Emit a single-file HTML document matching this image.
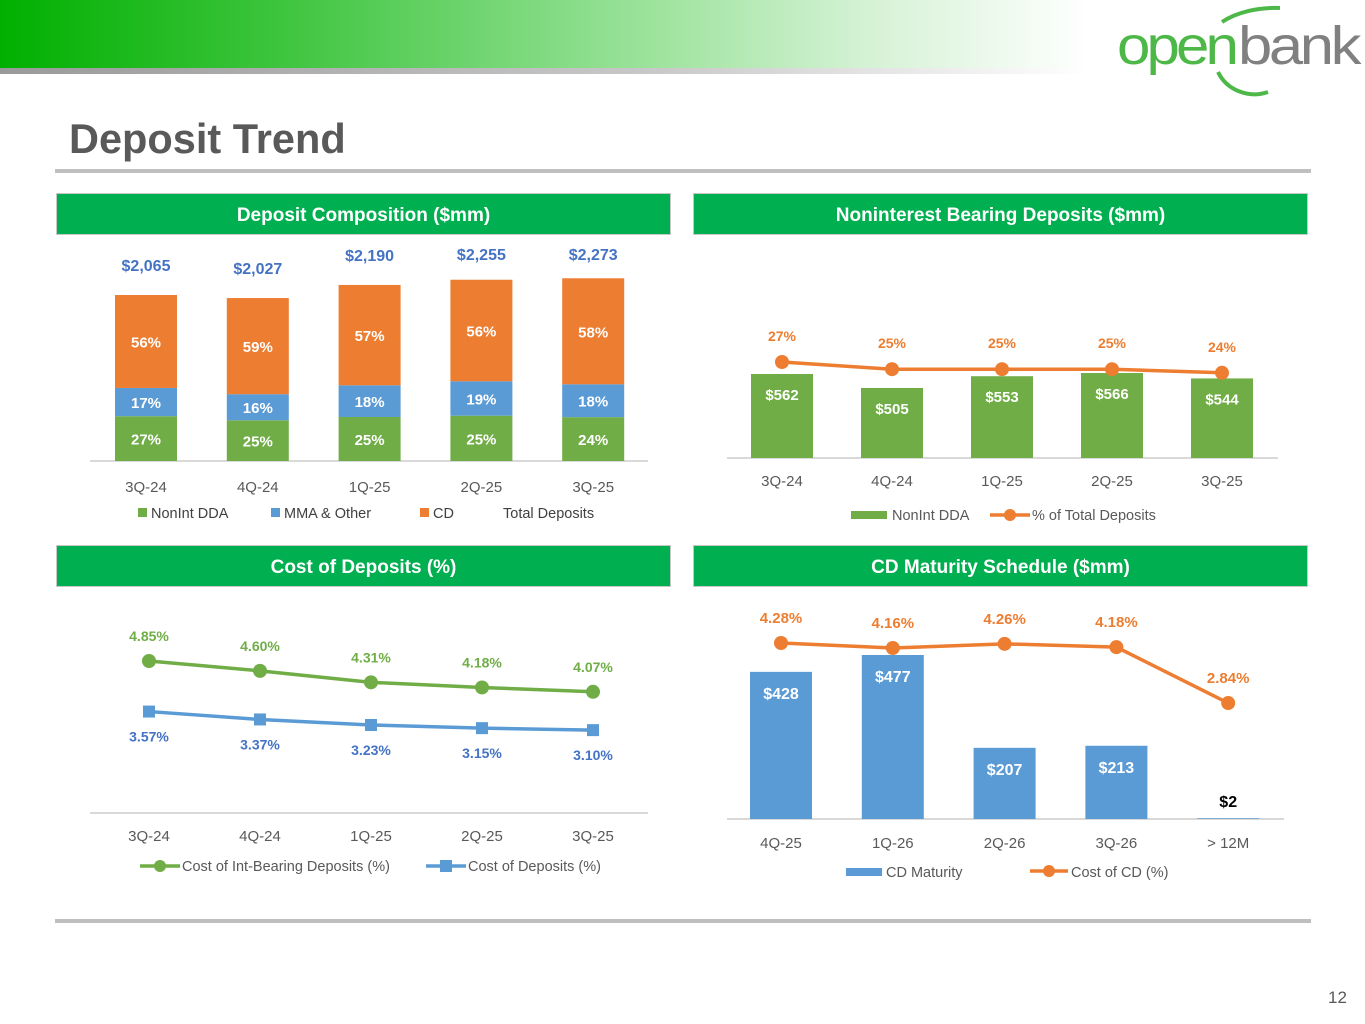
<!DOCTYPE html>
<html><head><meta charset="utf-8">
<style>
body{margin:0;width:1365px;height:1024px;background:#fff;font-family:"Liberation Sans",Arial,sans-serif;position:relative;overflow:hidden}
.hdr{position:absolute;height:40px;background:#00b050;color:#fff;font-weight:bold;font-size:19px;line-height:43px;text-align:center;box-shadow:0 0 0 1px #c8c8c8}
</style></head><body>
<div style="position:absolute;left:0;top:0;width:1090px;height:68px;background:linear-gradient(90deg,#00b000 0%,#3cc43c 25%,#8fdf8f 55%,#d6f2d6 80%,#fff 100%)"></div>
<div style="position:absolute;left:0;top:68px;width:1090px;height:6px;background:linear-gradient(90deg,#9a9a9a,#c8c8c8 60%,#fff)"></div>
<svg style="position:absolute;left:1110px;top:0" width="255" height="100">
<path d="M112 22 A70 40 0 0 1 170 8" stroke="#4db848" stroke-width="4" fill="none"/>
<path d="M108 72 A40 38 0 0 0 158 92" stroke="#4db848" stroke-width="4" fill="none"/>
<text x="7" y="64" font-family="Liberation Sans,Arial,sans-serif" font-size="54" fill="#4db848" letter-spacing="-3.5" textLength="118" lengthAdjust="spacingAndGlyphs">open</text>
<text x="128" y="64" font-family="Liberation Sans,Arial,sans-serif" font-size="54" fill="#808080" letter-spacing="-3" textLength="120" lengthAdjust="spacingAndGlyphs">bank</text>
</svg>
<div style="position:absolute;left:69px;top:115px;font-size:41.5px;font-weight:bold;color:#595959">Deposit Trend</div>
<div style="position:absolute;left:55px;top:169px;width:1256px;height:4px;background:#bfbfbf"></div>
<div style="position:absolute;left:55px;top:919px;width:1256px;height:4px;background:#bfbfbf"></div>
<div class="hdr" style="left:57px;top:194px;width:613px">Deposit Composition ($mm)</div>
<div class="hdr" style="left:694px;top:194px;width:613px">Noninterest Bearing Deposits ($mm)</div>
<div class="hdr" style="left:57px;top:546px;width:613px">Cost of Deposits (%)</div>
<div class="hdr" style="left:694px;top:546px;width:613px">CD Maturity Schedule ($mm)</div>
<div style="position:absolute;left:1328px;top:988px;font-size:17px;color:#595959">12</div>
<svg id="chart" style="position:absolute;left:0;top:0" width="1365" height="1024" font-family="Liberation Sans,Arial,sans-serif"></svg>
<script>
const quarters1 = ["3Q-24","4Q-24","1Q-25","2Q-25","3Q-25"];
const totalDeposits = [2065,2027,2190,2255,2273];
const pctNonInt = [27,25,25,25,24];
const pctMMA = [17,16,18,19,18];
const pctCD = [56,59,57,56,58];
const nonIntDDA = [562,505,553,566,544];
const pctOfTotal = [27,25,25,25,24];
const costIntBearing = [4.85,4.60,4.31,4.18,4.07];
const costDeposits = [3.57,3.37,3.23,3.15,3.10];
const maturityBuckets = ["4Q-25","1Q-26","2Q-26","3Q-26","> 12M"];
const cdMaturity = [428,477,207,213,2];
const costCD = [4.28,4.16,4.26,4.18,2.84];

const svg=document.getElementById('chart');
const NS='http://www.w3.org/2000/svg';
function el(tag,attrs,txt){const e=document.createElementNS(NS,tag);for(const k in attrs)e.setAttribute(k,attrs[k]);if(txt!==undefined)e.textContent=txt;svg.appendChild(e);return e;}
const G='#70ad47',B='#5b9bd5',O='#ed7d31',LB='#4472c4',T='#595959';
function xs(x0,step){return i=>x0+i*step;}
function axisLine(x1,x2,y){const e=el('line',{x1:x1,x2:x2,y1:y,y2:y,stroke:'#d9d9d9','stroke-width':2});}
function tickLabels(cats,xf,y){cats.forEach((c,i)=>{const t=el('text',{x:xf(i),y:y,'text-anchor':'middle','font-size':15,fill:T},c);});}
function lbl(x,y,txt,col,size){const t=el('text',{x:x,y:y,'text-anchor':'middle','font-size':size||15,'font-weight':'bold',fill:col},txt);return t;}

// Chart 1
const x1=xs(146,111.8), base1=461, k1=166/2065, bw=62;
axisLine(90,648,base1);
quarters1.forEach((q,i)=>{
  const tot=totalDeposits[i]; let y=base1;
  [[pctNonInt[i],G,'bar-nonint'],[pctMMA[i],B,'bar-mma'],[pctCD[i],O,'bar-cd']].forEach(s=>{
    const h=tot*k1*s[0]/100; y-=h;
    const r=el('rect',{x:x1(i)-bw/2,y:y,width:bw,height:h,fill:s[1]});
    
    
    lbl(x1(i),y+h/2+6,s[0]+'%','#fff');
  });
  lbl(x1(i),Math.max(y-24,260),'$'+tot.toLocaleString('en-US'),LB,16);
});
tickLabels(quarters1,x1,492);
el('rect',{x:138,y:508,width:9,height:9,fill:G});el('text',{x:151,y:518,'font-size':14.5,fill:'#404040'},'NonInt DDA');
el('rect',{x:271,y:508,width:9,height:9,fill:B});el('text',{x:284,y:518,'font-size':14.5,fill:'#404040'},'MMA & Other');
el('rect',{x:420,y:508,width:9,height:9,fill:O});el('text',{x:433,y:518,'font-size':14.5,fill:'#404040'},'CD');
el('text',{x:503,y:518,'font-size':14.5,fill:'#404040'},'Total Deposits');

// Chart 2
const x2=xs(782,110), base2=458, min2=220, k2=84/(562-220);
axisLine(727,1278,base2);
const yp2=v=>362+(27-v)*3.6;
nonIntDDA.forEach((v,i)=>{
  const h=(v-min2)*k2;
  const r=el('rect',{x:x2(i)-31,y:base2-h,width:62,height:h,fill:G});
  
  
  lbl(x2(i),base2-h+26,'$'+v,'#fff');
});
const l2=el('polyline',{points:pctOfTotal.map((v,i)=>x2(i)+','+yp2(v)).join(' '),fill:'none',stroke:O,'stroke-width':3.5});

pctOfTotal.forEach((v,i)=>{const c=el('circle',{cx:x2(i),cy:yp2(v),r:7,fill:O});lbl(x2(i),yp2(v)-21,v+'%',O,14);});
tickLabels(quarters1,x2,486);
el('rect',{x:851,y:511,width:36,height:8,fill:G});el('text',{x:892,y:520,'font-size':14.5,fill:T},'NonInt DDA');
el('line',{x1:990,x2:1030,y1:515,y2:515,stroke:O,'stroke-width':3.5});el('circle',{cx:1010,cy:515,r:6,fill:O});el('text',{x:1032,y:520,'font-size':14.5,fill:T},'% of Total Deposits');

// Chart 3
const x3=xs(149,111), yp3=v=>661+(4.85-v)*39.5;
axisLine(90,648,813);
const lg=el('polyline',{points:costIntBearing.map((v,i)=>x3(i)+','+yp3(v)).join(' '),fill:'none',stroke:G,'stroke-width':3.5});

const lb=el('polyline',{points:costDeposits.map((v,i)=>x3(i)+','+yp3(v)).join(' '),fill:'none',stroke:B,'stroke-width':3.5});

costIntBearing.forEach((v,i)=>{const c=el('circle',{cx:x3(i),cy:yp3(v),r:7,fill:G});lbl(x3(i),yp3(v)-20,v.toFixed(2)+'%',G,14);});
costDeposits.forEach((v,i)=>{const c=el('rect',{x:x3(i)-6,y:yp3(v)-6,width:12,height:12,fill:B});lbl(x3(i),yp3(v)+30,v.toFixed(2)+'%',LB,14);});
tickLabels(quarters1,x3,841);
el('line',{x1:140,x2:180,y1:866,y2:866,stroke:G,'stroke-width':3.5});el('circle',{cx:160,cy:866,r:6,fill:G});el('text',{x:182,y:871,'font-size':14.5,fill:T},'Cost of Int-Bearing Deposits (%)');
el('line',{x1:426,x2:466,y1:866,y2:866,stroke:B,'stroke-width':3.5});el('rect',{x:440,y:860,width:12,height:12,fill:B});el('text',{x:468,y:871,'font-size':14.5,fill:T},'Cost of Deposits (%)');

// Chart 4
const x4=xs(781,111.8), base4=819, k4=164/477, yp4=v=>643+(4.28-v)*41.7;
axisLine(727,1284,base4);
cdMaturity.forEach((v,i)=>{
  const h=v*k4;
  const r=el('rect',{x:x4(i)-31,y:base4-h,width:62,height:h,fill:B});
  
  
  if(h>30) lbl(x4(i),base4-h+27,'$'+v,'#fff',16); else lbl(x4(i),base4-12,'$'+v,'#000',16);
});
const l4=el('polyline',{points:costCD.map((v,i)=>x4(i)+','+yp4(v)).join(' '),fill:'none',stroke:O,'stroke-width':3.5});

costCD.forEach((v,i)=>{const c=el('circle',{cx:x4(i),cy:yp4(v),r:7,fill:O});lbl(x4(i),yp4(v)-20,v.toFixed(2)+'%',O,15);});
tickLabels(maturityBuckets,x4,848);
el('rect',{x:846,y:868,width:36,height:8,fill:B});el('text',{x:886,y:877,'font-size':14.5,fill:T},'CD Maturity');
el('line',{x1:1030,x2:1068,y1:871,y2:871,stroke:O,'stroke-width':3.5});el('circle',{cx:1049,cy:871,r:6,fill:O});el('text',{x:1071,y:877,'font-size':14.5,fill:T},'Cost of CD (%)');
</script>
</body></html>
